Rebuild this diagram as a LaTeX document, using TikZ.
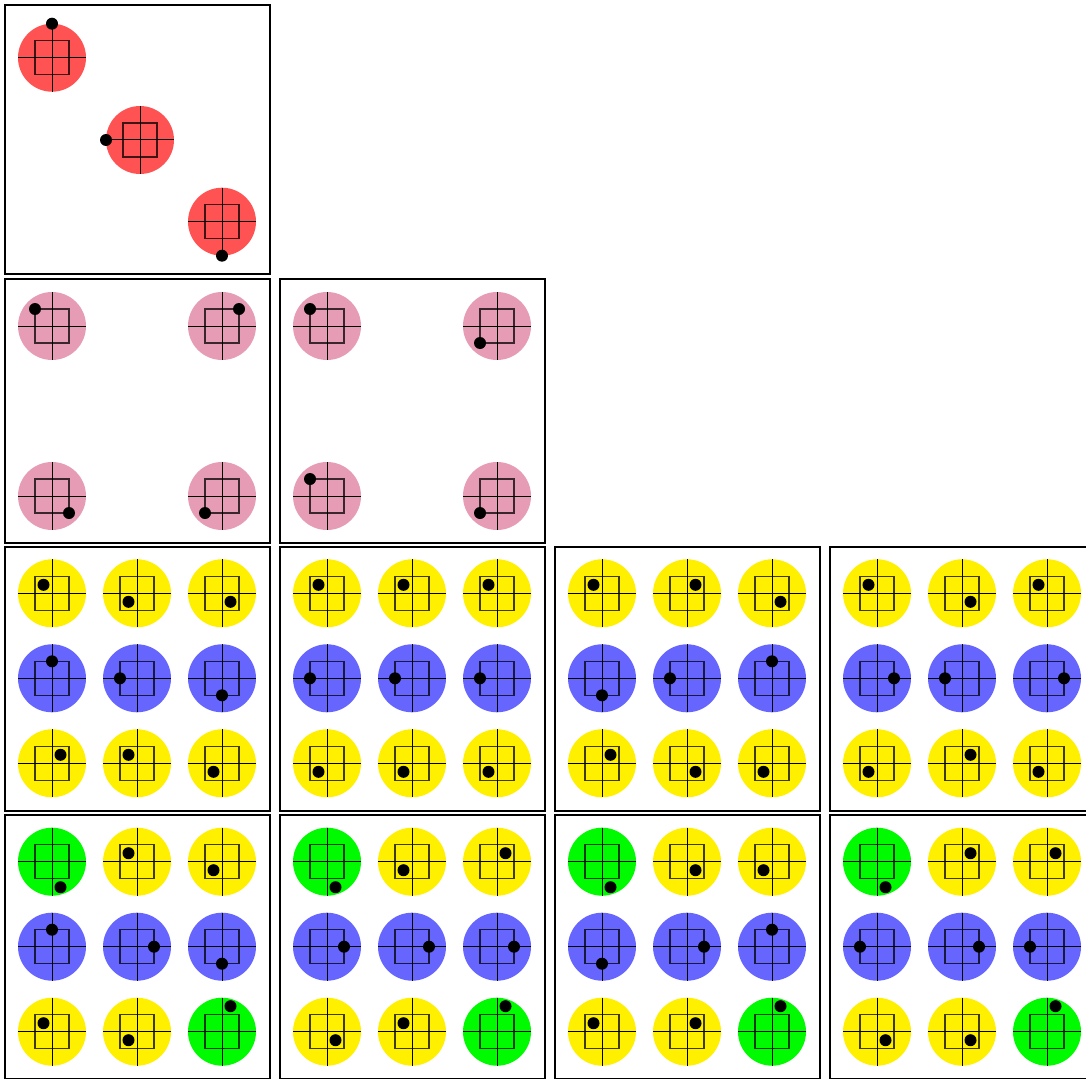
\documentclass[tikz,border=0pt]{standalone}
\usepackage{tikz}
\definecolor{discred}{RGB}{255,82,82}
\definecolor{discpink}{RGB}{230,156,180}
\definecolor{discyellow}{RGB}{255,240,0}
\definecolor{discblue}{RGB}{102,102,255}
\definecolor{discgreen}{RGB}{0,250,0}
\tikzset{
  panel/.style={draw,line width=2pt},
  pics/disc/.style n args={3}{code={
    \fill[#1] (0,0) circle (34);
    \draw[line width=1pt] (-34,0) -- (34,0) (0,-34) -- (0,34);
    \draw[line width=1.3pt,draw opacity=0.75] (-17,-17) rectangle (17,17);
    \fill[black] ({17*#2},{17*#3}) circle (6);
  }}
}

\begin{document}
\begin{tikzpicture}[x=1pt,y=-1pt]
\clip (0,0) rectangle (1086,1078);
\fill[white] (0,0) rectangle (1086,1078);
% Row 1: diagonal
\draw[panel] (5,5) rectangle (270,274);
\pic at (52,57.7) {disc={discred}{0}{-2}};
\pic at (140,140) {disc={discred}{-2}{0}};
\pic at (222,221.7) {disc={discred}{0}{2}};
% Row 2: corners
\draw[panel] (5,279) rectangle (270,543);
\pic at (52,326) {disc={discpink}{-1}{-1}};
\pic at (222,326) {disc={discpink}{1}{-1}};
\pic at (52,496) {disc={discpink}{1}{1}};
\pic at (222,496) {disc={discpink}{-1}{1}};
\begin{scope}[shift={(275,0)}]
  \draw[panel] (5,279) rectangle (270,543);
  \pic at (52,326) {disc={discpink}{-1}{-1}};
  \pic at (222,326) {disc={discpink}{-1}{1}};
  \pic at (52,496) {disc={discpink}{-1}{-1}};
  \pic at (222,496) {disc={discpink}{-1}{1}};
\end{scope}
% Row 3: yellow / blue / yellow
\begin{scope}[shift={(0,0)}]
  \draw[panel] (5,547) rectangle (270,811);
  \foreach \clr/\dx/\dy [count=\i from 0] in {
      discyellow/-.5/-.5, discyellow/-.5/.5, discyellow/.5/.5,
      discblue/0/-1, discblue/-1/0, discblue/0/1,
      discyellow/.5/-.5, discyellow/-.5/-.5, discyellow/-.5/.5}
    \pic at ({52+85*mod(\i,3)},{593.3+85*int(\i/3)}) {disc={\clr}{\dx}{\dy}};
\end{scope}
\begin{scope}[shift={(275,0)}]
  \draw[panel] (5,547) rectangle (270,811);
  \foreach \clr/\dx/\dy [count=\i from 0] in {
      discyellow/-.5/-.5, discyellow/-.5/-.5, discyellow/-.5/-.5,
      discblue/-1/0, discblue/-1/0, discblue/-1/0,
      discyellow/-.5/.5, discyellow/-.5/.5, discyellow/-.5/.5}
    \pic at ({52+85*mod(\i,3)},{593.3+85*int(\i/3)}) {disc={\clr}{\dx}{\dy}};
\end{scope}
\begin{scope}[shift={(550,0)}]
  \draw[panel] (5,547) rectangle (270,811);
  \foreach \clr/\dx/\dy [count=\i from 0] in {
      discyellow/-.5/-.5, discyellow/.5/-.5, discyellow/.5/.5,
      discblue/0/1, discblue/-1/0, discblue/0/-1,
      discyellow/.5/-.5, discyellow/.5/.5, discyellow/-.5/.5}
    \pic at ({52+85*mod(\i,3)},{593.3+85*int(\i/3)}) {disc={\clr}{\dx}{\dy}};
\end{scope}
\begin{scope}[shift={(825,0)}]
  \draw[panel] (5,547) rectangle (270,811);
  \foreach \clr/\dx/\dy [count=\i from 0] in {
      discyellow/-.5/-.5, discyellow/.5/.5, discyellow/-.5/-.5,
      discblue/1/0, discblue/-1/0, discblue/1/0,
      discyellow/-.5/.5, discyellow/.5/-.5, discyellow/-.5/.5}
    \pic at ({52+85*mod(\i,3)},{593.3+85*int(\i/3)}) {disc={\clr}{\dx}{\dy}};
\end{scope}
% Row 4: green corners
\begin{scope}[shift={(0,0)}]
  \draw[panel] (5,815) rectangle (270,1079);
  \foreach \clr/\dx/\dy [count=\i from 0] in {
      discgreen/.5/1.5, discyellow/-.5/-.5, discyellow/-.5/.5,
      discblue/0/-1, discblue/1/0, discblue/0/1,
      discyellow/-.5/-.5, discyellow/-.5/.5, discgreen/.5/-1.5}
    \pic at ({52+85*mod(\i,3)},{861.7+85*int(\i/3)}) {disc={\clr}{\dx}{\dy}};
\end{scope}
\begin{scope}[shift={(275,0)}]
  \draw[panel] (5,815) rectangle (270,1079);
  \foreach \clr/\dx/\dy [count=\i from 0] in {
      discgreen/.5/1.5, discyellow/-.5/.5, discyellow/.5/-.5,
      discblue/1/0, discblue/1/0, discblue/1/0,
      discyellow/.5/.5, discyellow/-.5/-.5, discgreen/.5/-1.5}
    \pic at ({52+85*mod(\i,3)},{861.7+85*int(\i/3)}) {disc={\clr}{\dx}{\dy}};
\end{scope}
\begin{scope}[shift={(550,0)}]
  \draw[panel] (5,815) rectangle (270,1079);
  \foreach \clr/\dx/\dy [count=\i from 0] in {
      discgreen/.5/1.5, discyellow/.5/.5, discyellow/-.5/.5,
      discblue/0/1, discblue/1/0, discblue/0/-1,
      discyellow/-.5/-.5, discyellow/.5/-.5, discgreen/.5/-1.5}
    \pic at ({52+85*mod(\i,3)},{861.7+85*int(\i/3)}) {disc={\clr}{\dx}{\dy}};
\end{scope}
\begin{scope}[shift={(825,0)}]
  \draw[panel] (5,815) rectangle (270,1079);
  \foreach \clr/\dx/\dy [count=\i from 0] in {
      discgreen/.5/1.5, discyellow/.5/-.5, discyellow/.5/-.5,
      discblue/-1/0, discblue/1/0, discblue/-1/0,
      discyellow/.5/.5, discyellow/.5/.5, discgreen/.5/-1.5}
    \pic at ({52+85*mod(\i,3)},{861.7+85*int(\i/3)}) {disc={\clr}{\dx}{\dy}};
\end{scope}
\end{tikzpicture}
\end{document}
